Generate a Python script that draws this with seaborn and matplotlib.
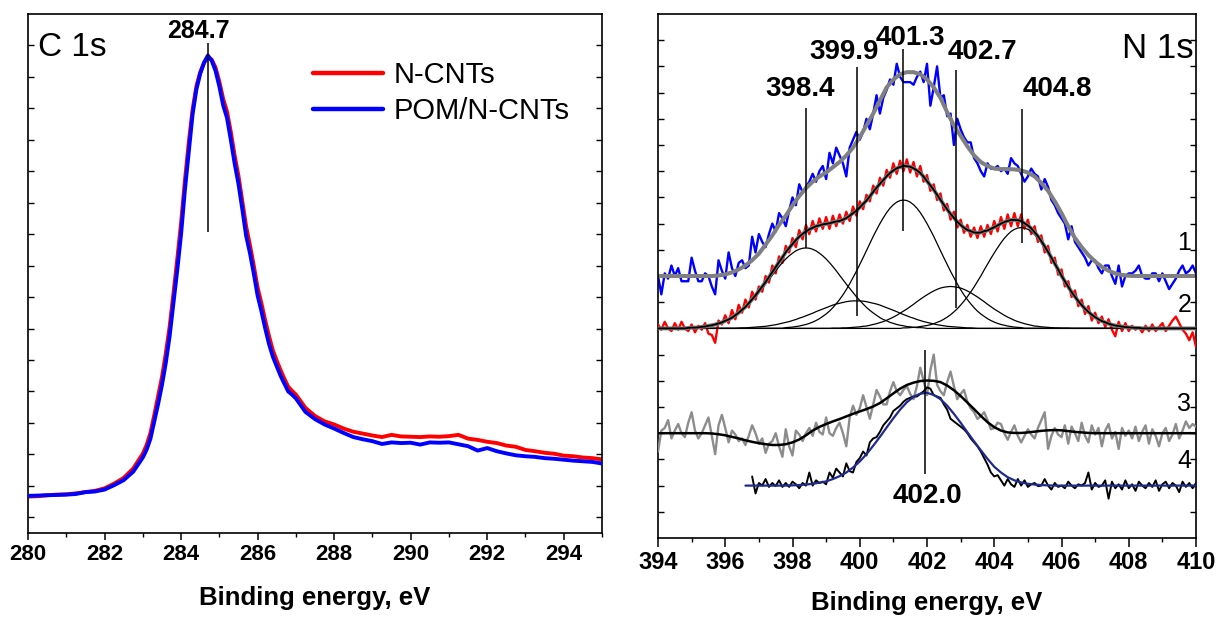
import numpy as np
import pandas as pd
import matplotlib
matplotlib.use("Agg")
import matplotlib.pyplot as plt
import seaborn as sns
from matplotlib.ticker import MultipleLocator, FixedLocator

# ---------------- C 1s panel data ----------------
c1s_energy = np.round(np.concatenate([
    np.arange(280.0, 282.76, 0.25),
    np.arange(283.0, 287.01, 0.1),
    np.arange(287.25, 295.01, 0.25)]), 2)

c1s_ncnt = [0.66, 0.67, 0.70, 0.72, 0.73, 0.76, 0.80, 0.84, 0.92, 1.07, 1.25, 1.55,
            2.02, 2.3, 2.68, 3.25, 3.85, 4.45, 5.2, 6.05, 7.1, 8.2,
            9.35, 10.7, 11.9, 12.95, 13.7, 14.15, 14.45, 14.62, 14.55, 14.3,
            13.85, 13.3, 12.9, 12.25, 11.5, 10.85, 10.05, 9.25, 8.65, 8.0,
            7.3, 6.8, 6.25, 5.75, 5.3, 4.98, 4.68, 4.4, 4.15, 4.02, 3.9,
            3.48, 3.22, 3.05, 2.95, 2.82, 2.72, 2.66, 2.6, 2.55, 2.62, 2.57, 2.56,
            2.55, 2.57, 2.56, 2.58, 2.62, 2.5, 2.46, 2.4, 2.36, 2.28, 2.24, 2.14,
            2.1, 2.05, 2.02, 1.96, 1.94, 1.9, 1.88, 1.84]

c1s_pom = [0.68, 0.69, 0.70, 0.71, 0.72, 0.74, 0.80, 0.82, 0.88, 1.02, 1.18, 1.45,
           1.9, 2.15, 2.5, 3.05, 3.6, 4.2, 4.9, 5.75, 6.8, 7.85,
           9.0, 10.4, 11.6, 12.8, 13.6, 14.1, 14.45, 14.68, 14.52, 14.2,
           13.7, 13.1, 12.7, 12.0, 11.25, 10.6, 9.8, 8.95, 8.4, 7.75,
           7.05, 6.55, 6.0, 5.5, 5.1, 4.8, 4.5, 4.25, 4.0, 3.9, 3.78,
           3.35, 3.12, 2.95, 2.82, 2.68, 2.55, 2.48, 2.42, 2.33, 2.38, 2.36, 2.37,
           2.31, 2.38, 2.37, 2.38, 2.32, 2.26, 2.12, 2.2, 2.1, 2.03, 1.97, 1.94,
           1.92, 1.88, 1.86, 1.83, 1.8, 1.78, 1.76, 1.71]

c1s_peak = 284.7
c1s_peak_line = [9.06, 15.08]

# ---------------- N 1s panel data ----------------
n1s_energy = np.round(np.linspace(394.0, 410.0, 161), 1)
fit_energy = np.round(np.linspace(394.0, 410.0, 81), 1)

spec1 = [10.0, 9.3, 10.1, 9.9, 10.4, 10.0, 10.3, 9.8, 9.8, 9.8,
         10.7, 10.2, 9.8, 9.8, 10.1, 10.0, 9.6, 9.3, 10.6, 10.2,
         9.9, 10.9, 10.3, 10.0, 10.5, 10.6, 10.3, 10.4, 11.5, 10.9,
         11.6, 11.3, 11.1, 11.6, 12.0, 11.7, 12.4, 12.2, 11.9, 12.5,
         13.0, 12.7, 13.5, 13.2, 13.4, 13.6, 13.9, 13.6, 14.0, 14.2,
         13.7, 14.7, 14.3, 14.9, 14.6, 14.3, 13.8, 14.9, 15.2, 15.5,
         15.2, 15.5, 16.0, 15.6, 16.2, 16.9, 16.2, 16.8, 17.1, 17.5,
         17.3, 18.1, 17.6, 17.4, 17.4, 17.4, 17.3, 17.6, 17.8, 17.4,
         18.1, 16.5, 17.2, 18.0, 16.8, 16.9, 16.1, 16.2, 15.0, 16.0,
         15.6, 15.3, 15.1, 15.1, 14.5, 14.3, 14.0, 13.8, 14.3, 14.1,
         14.1, 14.2, 14.0, 14.1, 13.9, 14.5, 14.3, 14.2, 13.9, 13.6,
         13.8, 14.1, 13.9, 13.8, 13.3, 13.7, 13.4, 12.9, 12.7, 12.4,
         12.2, 12.0, 11.4, 11.9, 11.3, 11.1, 10.9, 10.7, 10.4, 10.6,
         10.6, 10.3, 10.1, 10.4, 10.4, 10.0, 9.7, 10.4, 9.6, 10.0,
         10.1, 10.1, 10.2, 10.4, 10.0, 9.9, 9.9, 10.1, 10.1, 9.8,
         10.1, 9.8, 9.5, 9.7, 9.9, 10.2, 10.4, 10.1, 10.2, 10.4,
         10.1]

spec2 = [8.15, 7.95, 8.25, 8.0, 7.9, 8.2, 7.95, 8.25, 8.0, 7.9,
         8.15, 7.85, 8.1, 7.95, 8.2, 7.8, 7.75, 7.45, 8.3, 8.15,
         8.5, 8.2, 8.7, 8.35, 8.9, 8.6, 9.1, 8.8, 9.4, 9.1,
         9.6, 9.4, 10.0, 9.75, 10.4, 10.1, 10.75, 10.5, 11.15, 10.9,
         11.45, 11.1, 11.75, 11.4, 11.95, 11.6, 12.1, 11.7, 12.2, 11.8,
         12.25, 11.8, 12.3, 11.9, 12.35, 12.0, 12.45, 12.1, 12.65, 12.3,
         12.85, 12.55, 13.1, 12.85, 13.45, 13.15, 13.75, 13.45, 14.05, 13.75,
         14.3, 13.9, 14.4, 14.0, 14.45, 13.95, 14.35, 13.8, 14.2, 13.6,
         13.85, 13.25, 13.5, 12.9, 13.15, 12.5, 12.75, 12.15, 12.45, 11.85,
         12.15, 11.65, 11.95, 11.5, 11.85, 11.45, 11.9, 11.5, 11.95, 11.6,
         12.1, 11.7, 12.25, 11.8, 12.35, 11.9, 12.4, 11.9, 12.35, 11.8,
         12.15, 11.6, 11.9, 11.3, 11.55, 10.9, 11.15, 10.5, 10.7, 10.05,
         10.25, 9.6, 9.8, 9.2, 9.45, 8.85, 9.1, 8.55, 8.85, 8.3,
         8.6, 8.2, 8.45, 8.05, 8.35, 7.95, 7.7, 8.25, 7.9, 8.2,
         7.9, 8.1, 7.95, 8.05, 7.85, 8.1, 7.9, 8.15, 7.9, 8.05,
         8.2, 7.9, 8.1, 8.3, 8.45, 8.2, 7.95, 7.8, 7.55, 7.85,
         7.3]

spec3 = [3.3, 4.1, 4.2, 4.5, 3.8, 4.1, 4.35, 4.0, 3.85, 4.4,
         4.8, 4.1, 3.8, 4.0, 4.3, 4.6, 3.9, 3.2, 4.3, 4.7,
         4.2, 3.65, 4.1, 3.95, 3.7, 3.8, 3.55, 3.9, 4.3, 4.0,
         3.6, 3.8, 3.25, 3.6, 3.7, 4.0, 3.5, 3.1, 4.15, 3.5,
         3.15, 4.1, 3.95, 3.7, 4.0, 4.2, 3.9, 4.4, 4.05, 3.95,
         4.6, 4.0, 3.9, 4.2, 4.4, 4.0, 3.5, 4.6, 5.05, 4.7,
         4.95, 5.45, 5.0, 4.55, 5.1, 5.65, 5.4, 5.1, 5.1, 5.6,
         5.95, 5.6, 5.45, 5.65, 5.8, 5.5, 5.3, 5.8, 6.5, 6.0,
         5.45, 6.4, 7.0, 5.85, 5.6, 5.45, 5.95, 6.35, 5.8, 5.3,
         5.5, 5.65, 5.2, 4.95, 4.8, 4.55, 4.65, 4.8, 4.5, 4.15,
         4.2, 4.4, 4.35, 4.0, 3.75, 4.05, 4.3, 3.9, 3.65, 3.9,
         4.15, 3.95, 3.8, 4.2, 4.5, 4.8, 3.4, 3.9, 4.2, 3.95,
         3.85, 4.3, 3.6, 4.25, 4.0, 3.7, 4.4, 3.9, 3.65, 4.3,
         3.95, 4.2, 3.5, 4.1, 4.35, 3.8, 4.05, 3.4, 4.2, 3.9,
         4.1, 3.8, 4.25, 3.7, 4.05, 4.3, 3.6, 4.15, 3.9, 3.5,
         4.0, 4.2, 3.7, 3.95, 4.35, 3.8, 4.1, 4.45, 4.2, 4.35,
         4.25]

spec4 = [2.35, 1.7,
         2.1, 2.0, 2.25, 1.95, 2.1, 1.98, 2.2, 1.95, 2.1, 1.95,
         2.15, 2.05, 1.9, 2.1, 2.0, 2.5, 2.0, 2.2, 2.1, 2.15,
         2.05, 2.5, 2.3, 2.65, 2.5, 2.35, 2.85, 2.55, 2.5, 2.9,
         3.05, 3.3, 3.15, 3.65, 3.8, 3.85, 4.05, 4.3, 4.45, 4.6,
         4.85, 4.95, 5.05, 5.2, 5.3, 5.35, 5.4, 5.4, 5.5, 5.6,
         5.75, 5.7, 5.45, 5.4, 5.35, 5.1, 4.9, 4.55, 4.45, 4.35,
         4.25, 4.15, 4.0, 3.8, 3.65, 3.5, 3.3, 3.05, 2.8, 2.5,
         2.35, 2.4, 2.2, 2.0, 2.25, 2.05, 1.95, 2.25, 2.0, 2.2,
         1.95, 2.05, 2.1, 1.98, 2.0, 2.25, 2.0, 1.85, 2.1, 1.95,
         2.0, 1.9, 2.15, 2.0, 1.9, 2.05, 2.0, 2.1, 2.5, 1.85,
         2.1, 1.95, 2.0, 2.2, 1.5, 2.15, 1.9, 2.05, 1.85, 2.2,
         1.9, 2.05, 1.8, 2.15, 2.0, 1.9, 2.1, 1.95, 2.2, 1.8,
         2.05, 2.15, 1.9, 2.1, 2.0, 1.75, 2.15, 1.95, 2.1, 1.9,
         2.1]

fit1 = [10.0, 10.0, 10.0, 10.0, 10.0, 10.0, 10.0, 10.0, 10.0,
        10.02, 10.06, 10.14, 10.25, 10.4, 10.6,
        10.85, 11.2, 11.55, 11.95, 12.3,
        12.7, 13.05, 13.35, 13.6, 13.8,
        13.95, 14.15, 14.35, 14.6, 14.9,
        15.3, 15.75, 16.2, 16.7, 17.2,
        17.5, 17.7, 17.78, 17.78, 17.7,
        17.5, 17.2, 16.8, 16.25, 15.75,
        15.35, 14.95, 14.6, 14.35, 14.2,
        14.1, 14.08, 14.08, 14.07, 14.03,
        13.95, 13.8, 13.55, 13.25, 12.85,
        12.4, 11.9, 11.45, 11.1, 10.8,
        10.55, 10.35, 10.2, 10.1, 10.04,
        10.01, 10.0, 10.0, 10.0, 10.0, 10.0, 10.0, 10.0, 10.0, 10.0, 10.0]

baseline2 = 8.0
comp_398_4 = [0.02, 0.03, 0.03, 0.04, 0.06, 0.07, 0.10, 0.12, 0.15, 0.19, 0.23, 0.29, 0.34, 0.41, 0.50,
              0.59, 0.69, 0.80, 0.93, 1.07, 1.21, 1.37, 1.53, 1.69, 1.86, 2.03, 2.20, 2.36, 2.51, 2.65,
              2.77, 2.87, 2.96, 3.02, 3.06, 3.07, 3.06, 3.02, 2.96, 2.87, 2.77, 2.65, 2.51, 2.36, 2.20,
              2.03, 1.86, 1.69, 1.53, 1.37, 1.21, 1.07, 0.93, 0.80, 0.69, 0.59, 0.50, 0.41, 0.34, 0.29,
              0.23, 0.19, 0.15, 0.12, 0.10, 0.07, 0.06, 0.04, 0.03, 0.03, 0.02]
comp_399_9 = [0.01, 0.02, 0.02, 0.03, 0.04, 0.05, 0.06, 0.07, 0.08, 0.10, 0.12, 0.14, 0.17, 0.20, 0.23,
              0.26, 0.30, 0.34, 0.39, 0.43, 0.48, 0.53, 0.58, 0.64, 0.69, 0.74, 0.79, 0.84, 0.89, 0.93,
              0.96, 0.99, 1.02, 1.04, 1.05, 1.05, 1.05, 1.04, 1.02, 0.99, 0.96, 0.93, 0.89, 0.84, 0.79,
              0.74, 0.69, 0.64, 0.58, 0.53, 0.48, 0.43, 0.39, 0.34, 0.30, 0.26, 0.23, 0.20, 0.17, 0.14,
              0.12, 0.10, 0.08, 0.07, 0.06, 0.05, 0.04, 0.03, 0.02, 0.02, 0.01]
comp_401_3 = [0.03, 0.04, 0.05, 0.07, 0.09, 0.12, 0.15, 0.19, 0.24, 0.30, 0.37, 0.46, 0.55, 0.66, 0.79,
              0.94, 1.10, 1.28, 1.48, 1.70, 1.94, 2.18, 2.44, 2.70, 2.97, 3.24, 3.51, 3.76, 4.00, 4.22,
              4.42, 4.59, 4.72, 4.82, 4.88, 4.90, 4.88, 4.82, 4.72, 4.59, 4.42, 4.22, 4.00, 3.76, 3.51,
              3.24, 2.97, 2.70, 2.44, 2.18, 1.94, 1.70, 1.48, 1.28, 1.10, 0.94, 0.79, 0.66, 0.55, 0.46,
              0.37, 0.30, 0.24, 0.19, 0.15, 0.12, 0.09, 0.07, 0.05, 0.04, 0.03]
comp_402_7 = [0.01, 0.01, 0.01, 0.02, 0.02, 0.03, 0.04, 0.05, 0.06, 0.08, 0.09, 0.12, 0.15, 0.18, 0.22,
              0.26, 0.31, 0.37, 0.43, 0.50, 0.58, 0.66, 0.74, 0.83, 0.92, 1.02, 1.11, 1.20, 1.28, 1.36,
              1.43, 1.49, 1.54, 1.57, 1.59, 1.60, 1.59, 1.57, 1.54, 1.49, 1.43, 1.36, 1.28, 1.20, 1.11,
              1.02, 0.92, 0.83, 0.74, 0.66, 0.58, 0.50, 0.43, 0.37, 0.31, 0.26, 0.22, 0.18, 0.15, 0.12,
              0.09, 0.08, 0.06, 0.05, 0.04, 0.03, 0.02, 0.02, 0.01, 0.01, 0.01]
comp_404_8 = [0.02, 0.02, 0.03, 0.04, 0.05, 0.07, 0.09, 0.11, 0.14, 0.18, 0.23, 0.28, 0.35, 0.43, 0.52,
              0.63, 0.75, 0.89, 1.04, 1.21, 1.39, 1.58, 1.79, 2.00, 2.23, 2.45, 2.67, 2.88, 3.08, 3.27,
              3.44, 3.58, 3.70, 3.78, 3.83, 3.85, 3.83, 3.78, 3.70, 3.58, 3.44, 3.27, 3.08, 2.88, 2.67,
              2.45, 2.23, 2.00, 1.79, 1.58, 1.39, 1.21, 1.04, 0.89, 0.75, 0.63, 0.52, 0.43, 0.35, 0.28,
              0.23, 0.18, 0.14, 0.11, 0.09, 0.07, 0.05, 0.04, 0.03, 0.02, 0.02]
comp_centers = [398.4, 399.9, 401.3, 402.7, 404.8]
comp_half_span = 3.5

fit3 = [4.0, 4.0, 4.0, 4.0, 4.0, 4.0, 4.0, 4.0,
        3.99, 3.96, 3.92, 3.86, 3.8, 3.73, 3.67,
        3.62, 3.58, 3.55, 3.55, 3.58,
        3.65, 3.76, 3.92, 4.1, 4.24,
        4.35, 4.45, 4.54, 4.64, 4.74,
        4.83, 4.92, 5.02, 5.15, 5.33,
        5.52, 5.7, 5.84, 5.93, 5.99,
        6.01, 6.0, 5.95, 5.82, 5.64,
        5.42, 5.17, 4.92, 4.66, 4.42,
        4.23, 4.1, 4.03, 4.01, 4.01,
        4.03, 4.06, 4.09, 4.11, 4.12,
        4.11, 4.08, 4.05, 4.03, 4.01,
        4.0, 4.0, 4.0, 4.0, 4.0, 4.0, 4.0, 4.0, 4.0, 4.0, 4.0, 4.0, 4.0, 4.0, 4.0, 4.0]

fit4 = [2.0, 2.0, 2.0, 2.0, 2.0, 2.0, 2.0,
        2.01, 2.02, 2.04, 2.07, 2.11,
        2.16, 2.25, 2.36, 2.5, 2.69,
        2.92, 3.2, 3.52, 3.86, 4.22,
        4.57, 4.9, 5.18, 5.39, 5.51,
        5.54, 5.46, 5.3, 5.05, 4.74,
        4.4, 4.04, 3.69, 3.35, 3.02,
        2.72, 2.5, 2.32, 2.2, 2.12,
        2.07, 2.04, 2.02, 2.01,
        2.0, 2.0, 2.0, 2.0, 2.0, 2.0, 2.0, 2.0, 2.0, 2.0, 2.0,
        2.0, 2.0, 2.0, 2.0, 2.0, 2.0, 2.0, 2.0, 2.0, 2.0, 2.0]

# annotation lines (position, top, bottom) and labels
n1s_line_pos = [398.4, 399.92, 401.28, 402.86, 404.82, 401.94]
n1s_line_top = [16.43, 17.96, 18.66, 17.87, 16.39, 7.17]
n1s_line_bot = [11.08, 8.47, 11.72, 8.79, 11.25, 2.45]
n1s_labels = ["398.4", "399.9", "401.3", "402.7", "404.8", "402.0"]
n1s_label_x = [398.23, 399.53, 401.52, 403.66, 405.87, 402.02]
n1s_label_y = [17.13, 18.54, 19.1, 18.56, 17.13, 1.62]
curve_numbers = ["1", "2", "3", "4"]
curve_number_y = [11.25, 8.9, 5.1, 2.95]

# ---------------- checks ----------------
assert len(c1s_ncnt) == len(c1s_energy) == len(c1s_pom)
for s in (spec1, spec2, spec3):
    assert len(s) == 161
assert len(spec4) == 133
assert len(fit1) == 81 and len(fit3) == 81 and len(fit4) == 68

# ---------------- style ----------------
sns.set_theme(style="white")
plt.rcParams['font.family'] = ['Liberation Sans', 'DejaVu Sans']
plt.rcParams['text.color'] = 'black'
plt.rcParams['axes.labelcolor'] = 'black'
plt.rcParams['xtick.color'] = 'black'
plt.rcParams['ytick.color'] = 'black'
plt.rcParams['axes.edgecolor'] = 'black'
plt.rcParams['axes.linewidth'] = 1.2

fig = plt.figure(figsize=(12.16, 6.19), dpi=100)
axL = fig.add_axes([28 / 1216, (619 - 533) / 619, 574 / 1216, 519 / 619])
axR = fig.add_axes([658 / 1216, (619 - 538) / 619, 538 / 1216, 524 / 619])

# ---------------- left panel ----------------
sns.lineplot(x=c1s_energy, y=c1s_ncnt, ax=axL, color='#ff0000', linewidth=2.8,
             label='N-CNTs', estimator=None, zorder=2)
sns.lineplot(x=c1s_energy, y=c1s_pom, ax=axL, color='#0000ff', linewidth=2.8,
             label='POM/N-CNTs', estimator=None, zorder=3)
axL.vlines(c1s_peak, c1s_peak_line[0], c1s_peak_line[1], color='black', lw=1.1, zorder=4)
axL.text(284.46, 15.45, "284.7", ha='center', va='center', fontsize=18, fontweight='bold')
axL.text(0.018, 0.935, "C 1s", transform=axL.transAxes, ha='left', va='center', fontsize=24)
axL.set_xlim(280, 295)
axL.set_ylim(-0.5, 16)
axL.xaxis.set_major_locator(MultipleLocator(2))
axL.xaxis.set_minor_locator(MultipleLocator(1))
axL.yaxis.set_major_locator(FixedLocator(np.arange(0, 16)))
leg = axL.legend(loc='upper left', bbox_to_anchor=(0.471, 0.937), frameon=False,
                 fontsize=21, handlelength=2.4, handletextpad=0.35, labelspacing=0.26,
                 borderpad=0.0)
for ln in leg.get_lines():
    ln.set_linewidth(3.2)

# ---------------- right panel ----------------
sns.lineplot(x=n1s_energy, y=spec1, ax=axR, color='#0000ff', linewidth=1.7,
             estimator=None, legend=False, zorder=1)
sns.lineplot(x=fit_energy, y=fit1, ax=axR, color='#808080', linewidth=2.9,
             estimator=None, legend=False, zorder=2)
sns.lineplot(x=n1s_energy, y=spec2, ax=axR, color='#ff0000', linewidth=1.7,
             estimator=None, legend=False, zorder=3)

envelope = np.full(len(n1s_energy), baseline2)
for center, comp in zip(comp_centers, [comp_398_4, comp_399_9, comp_401_3, comp_402_7, comp_404_8]):
    start = int(round((center - comp_half_span - n1s_energy[0]) * 10))
    full = np.zeros(len(n1s_energy))
    full[start:start + len(comp)] = comp
    envelope = envelope + full
    sns.lineplot(x=n1s_energy, y=baseline2 + full, ax=axR, color='black', linewidth=0.9,
                 estimator=None, legend=False, zorder=4)
sns.lineplot(x=n1s_energy, y=envelope, ax=axR, color='#7a7a7a', linewidth=2.8,
             estimator=None, legend=False, zorder=5)
sns.lineplot(x=n1s_energy, y=envelope, ax=axR, color='black', linewidth=1.3,
             estimator=None, legend=False, zorder=6)

sns.lineplot(x=n1s_energy, y=spec3, ax=axR, color='#8c8c8c', linewidth=1.7,
             estimator=None, legend=False, zorder=3)
sns.lineplot(x=fit_energy, y=fit3, ax=axR, color='black', linewidth=1.8,
             estimator=None, legend=False, zorder=4)
sns.lineplot(x=n1s_energy[-len(spec4):], y=spec4, ax=axR, color='black', linewidth=1.4,
             estimator=None, legend=False, zorder=5)
sns.lineplot(x=fit_energy[-len(fit4):], y=fit4, ax=axR, color='#1f2a8f', linewidth=1.6,
             estimator=None, legend=False, zorder=6)

axR.vlines(n1s_line_pos, n1s_line_bot, n1s_line_top, color='black', lw=1.1, zorder=7)
for lab, lx, ly in zip(n1s_labels, n1s_label_x, n1s_label_y):
    axR.text(lx, ly, lab, ha='center', va='center', fontsize=20, fontweight='bold', zorder=8)
for lab, ly in zip(curve_numbers, curve_number_y):
    axR.text(409.65, ly, lab, ha='center', va='center', fontsize=18, zorder=8)
axR.text(0.995, 0.935, "N 1s", transform=axR.transAxes, ha='right', va='center', fontsize=25)
axR.set_xlim(394, 410)
axR.set_ylim(0, 20)
axR.xaxis.set_major_locator(MultipleLocator(2))
axR.xaxis.set_minor_locator(MultipleLocator(1))
axR.yaxis.set_major_locator(FixedLocator(np.arange(1, 20)))

for ax, tsize, lsize, pad, mlen in ((axL, 16, 18.5, 15, 5), (axR, 17, 18.5, 12, 6.5)):
    for sp in ax.spines.values():
        sp.set_color('black')
        sp.set_linewidth(1.2)
    ax.tick_params(axis='x', which='major', direction='out', length=mlen, width=1.1,
                   labelsize=tsize, pad=3, bottom=True, colors='black')
    ax.tick_params(axis='x', which='minor', direction='out', length=3.2, width=1.0, bottom=True)
    ax.tick_params(axis='y', which='major', direction='in', length=4, width=1.0,
                   left=True, right=True, labelleft=False)
    for lbl in ax.get_xticklabels():
        lbl.set_fontweight('bold')
    ax.set_xlabel("Binding energy, eV", fontsize=lsize, fontweight='bold', labelpad=pad)
    ax.set_ylabel("")

fig.savefig("out.png", dpi=100)
